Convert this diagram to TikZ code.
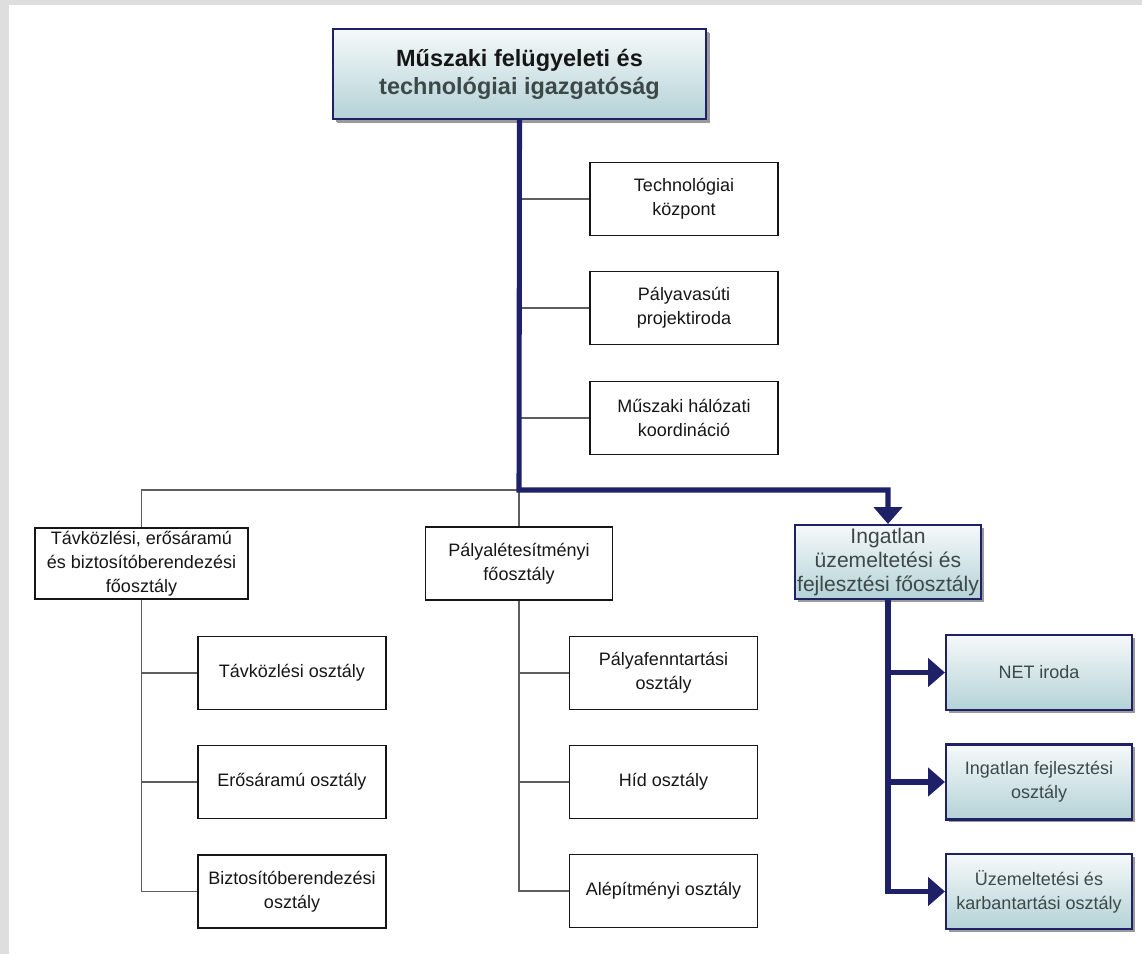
\documentclass[tikz,border=0pt]{standalone}
\usepackage{fontspec}
\setmainfont{Liberation Sans}
\usetikzlibrary{positioning,arrows.meta,shadows}
\usepackage{xcolor}
\definecolor{navy}{HTML}{1F2168}
\definecolor{linegrey}{HTML}{5E5E5E}
\definecolor{framegrey}{HTML}{DEDEDE}
\definecolor{boxtop}{HTML}{F6F9F9}
\definecolor{boxbottom}{HTML}{B4D2D7}
\definecolor{textdark}{HTML}{161616}
\definecolor{textmuted}{HTML}{3D4949}
\definecolor{shadowgrey}{HTML}{9A9A9A}

\tikzset{
  unitbox/.style={draw=textdark, line width=0.8pt, fill=white, align=center,
    inner sep=0pt, text=textdark, font=\fontsize{12.8}{17.1}\selectfont,
    minimum width=4.7cm, minimum height=1.825cm},
  leadbox/.style={draw=navy, line width=1.5pt, top color=boxtop, bottom color=boxbottom,
    align=center, inner sep=0pt, text=textmuted, font=\fontsize{12.8}{17.1}\selectfont,
    minimum width=4.65cm, minimum height=1.875cm,
    drop shadow={shadow xshift=0.07cm, shadow yshift=-0.07cm, fill=shadowgrey, opacity=1}},
  thinlink/.style={draw=linegrey, line width=1pt},
  boldline/.style={draw=navy, line width=3.6pt},
  boldarrow/.style={boldline, -{Triangle[length=12pt,width=20pt]}},
}

\begin{document}
\begin{tikzpicture}[x=0.025cm, y=-0.025cm]
    \useasboundingbox (0,0) rectangle (1142,954);
    \fill[framegrey] (0,0) rectangle (1142,954);
    \fill[white] (9,5) rectangle (1142,954);

    % Igazgatóság
    \node[leadbox, minimum width=9.325cm, minimum height=2.25cm,
      font=\fontsize{16.7}{19.9}\selectfont\bfseries, drop shadow={shadow xshift=0.11cm, shadow yshift=-0.11cm, fill=shadowgrey, opacity=1}]
      (top) at (519.5,74) {{\color{textdark}Műszaki felügyeleti és}\\technológiai igazgatóság};

    % Közvetlen egységek
    \node[unitbox] (tech) at (684,199) {Technológiai\\központ};
    \node[unitbox] (pvas) at (684,308) {Pályavasúti\\projektiroda};
    \node[unitbox] (mhk) at (684,418) {Műszaki hálózati\\koordináció};

    % Főosztályok
    \node[unitbox, minimum width=5.325cm, minimum height=1.775cm] (tavfo) at (141.5,563.5)
      {Távközlési, erősáramú\\és biztosítóberendezési\\főosztály};
    \node[unitbox, minimum width=4.675cm] (palyfo) at (519,563.5) {Pályalétesítményi\\főosztály};
    \node[leadbox, minimum height=1.85cm, font=\fontsize{15}{17.1}\selectfont] (ingfo) at (888,562)
      {Ingatlan\\üzemeltetési és\\fejlesztési főosztály};

    % Távközlési osztályok
    \node[unitbox] (tav1) at (292,673) {Távközlési osztály};
    \node[unitbox] (tav2) at (292,782) {Erősáramú osztály};
    \node[unitbox] (tav3) at (292,891.5) {Biztosítóberendezési\\osztály};

    % Pályalétesítményi osztályok
    \node[unitbox] (paly1) at (663.5,673) {Pályafenntartási\\osztály};
    \node[unitbox] (paly2) at (663.5,782) {Híd osztály};
    \node[unitbox] (paly3) at (663.5,891) {Alépítményi osztály};

    % Ingatlan osztályok
    \node[leadbox] (ing1) at (1039,672.5) {NET iroda};
    \node[leadbox] (ing2) at (1039,782) {Ingatlan fejlesztési\\osztály};
    \node[leadbox] (ing3) at (1039,891.5) {Üzemeltetési és\\karbantartási osztály};

    % Vonalak
    \coordinate (hub) at (519,490);
    \foreach \u in {tech,pvas,mhk}
      \draw[thinlink] (\u.west -| hub) -- (\u.west);
    \draw[thinlink] (hub) -| (tavfo.north);
    \draw[thinlink] (hub) -- (palyfo.north);
    \draw[thinlink] (tavfo.south) |- (tav3.west);
    \foreach \u in {tav1,tav2}
      \draw[thinlink] (\u.west -| tavfo.south) -- (\u.west);
    \draw[thinlink] (palyfo.south) |- (paly3.west);
    \foreach \u in {paly1,paly2}
      \draw[thinlink] (\u.west -| palyfo.south) -- (\u.west);

    \draw[boldarrow] (top.south) -- (hub) -| (ingfo.north);
    \draw[boldarrow] (ingfo.south) |- (ing3.west);
    \foreach \u in {ing1,ing2}
      \draw[boldarrow] (\u.west -| ingfo.south) -- (\u.west);
\end{tikzpicture}
\end{document}
